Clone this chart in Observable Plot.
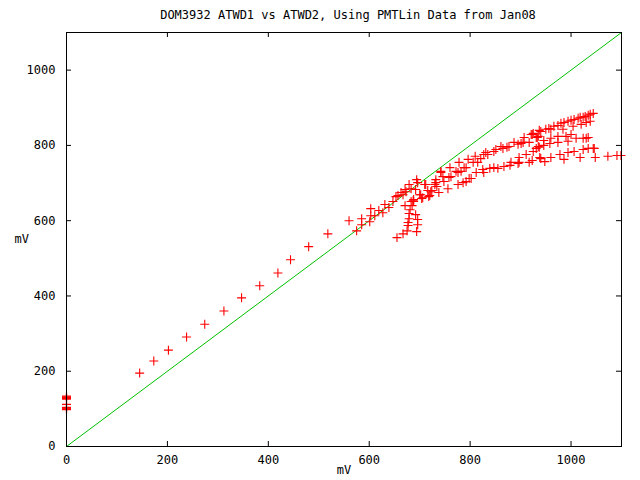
<!DOCTYPE html>
<html>
<head>
<meta charset="utf-8">
<script src="https://cdn.jsdelivr.net/npm/d3@7"></script>
<script src="https://cdn.jsdelivr.net/npm/@observablehq/plot@0.6"></script>
<style>
  body { margin: 0; background: white; }
  #title { width: 640px; height: 24px; line-height: 30px; text-align: center; box-sizing: border-box; padding-left: 56px;
           font-family: "DejaVu Sans Mono", monospace; font-size: 12px; color: black; }
</style>
</head>
<body>
<div id="title">DOM3932 ATWD1 vs ATWD2, Using PMTLin Data from Jan08</div>
<div id="chart"></div>
<script>
// ATWD2 (x, mV) vs ATWD1 (y, mV)
const xLabel = "mV";
const yLabel = "mV";
const tickValues = [0, 200, 400, 600, 800, 1000];
const identityLine = [0, 1100];

const axisPoints = [[0,126],[0,128],[0,130],[0,132],[0,134],[0,112],[0,98],[0,100],[0,102],[0,104]];

const nearDiagonal = [
  [145,195],[173,227],[202,256],[238,291],[274,325],[312,360],[347,395],[383,427],
  [419,461],[444,496],[480,531],[518,565],[560,600],[575,573],[585,605],[585,589],
  [601,597],[603,632],[603,613],[611,613],[619,627],[627,621],[631,643],[639,635],
  [647,651],[653,664],[657,667],[663,675],[671,683],[679,696],[683,685],[694,709]
];

const hook = [
  [655,555],[667,565],[675,573],[677,587],[677,595],[679,605],[679,619],[681,629],
  [685,640],[687,653],[688,656],[671,640],[692,616],[696,603],[696,589],[694,571],
  [700,669],[704,659],[710,696],[716,680],[720,667],[724,680],[730,696],[732,709],
  [738,675],[742,728],[748,704],[746,717],[756,685],[758,715]
];

const fanMiddle = [
  [667,669],[673,677],[683,651],[688,651],[692,683],[696,701],[702,669],[706,661],
  [712,696],[718,664],[722,677],[732,701],[734,691],[742,731],[760,741],[762,717],
  [776,728],[782,731],[778,755],[792,741],[796,763],[806,755],[815,755],[821,765],
  [831,781],[835,776],[851,789],[861,797],[873,795],[877,797],[887,808],[905,808],
  [923,829],[935,824],[865,792],[847,784],[827,776],[810,771],[788,741],[772,731],
  [895,803],[901,805],[907,821],[917,808],[921,829],[931,821],[937,840]
];

const fanLowerLeft = [
  [917,755],[897,755],[881,755],[867,744],[855,739],[847,741],[827,728],[825,736],
  [812,728],[802,712],[792,704],[776,696],[911,776],[897,768],[895,752],[879,747],
  [839,739],[798,712],[786,701],[935,797],[938,768]
];

const branchTop = [
  [1044,885],[1038,883],[1034,880],[1028,877],[1024,875],[1018,875],[1014,872],
  [1006,869],[1000,867],[994,864],[986,861],[980,859],[974,853],[966,851],[956,845],
  [950,843],[940,837]
];

const branchSecond = [
  [1038,864],[1030,861],[1020,856],[1004,851],[984,843],[960,843],[925,832],[933,821]
];

const branchThird = [
  [1034,821],[1030,819],[1024,819],[1010,819],[1000,829],[990,824],[974,824],[960,819],
  [946,813],[994,811],[974,808],[958,805],[946,800],[937,795],[931,792],[925,784]
];

const branchLowest = [
  [1046,792],[1044,792],[1034,792],[1024,789],[1006,784],[994,781],[978,776],[960,768],
  [940,765],[948,757],[986,763],[1018,768],[1048,768],[1073,771],[1091,773],[1099,773],
  [923,760]
];

const points = [].concat(axisPoints, nearDiagonal, hook, fanMiddle, fanLowerLeft,
  branchTop, branchSecond, branchThird, branchLowest);

const fmt = d3.format("d");
const W = 640, H = 456, ML = 66, MR = 19, MT = 8, MB = 34;
const frameW = W - ML - MR, frameH = H - MT - MB, tickLen = 5;

const chart = Plot.plot({
  width: W,
  height: H,
  marginLeft: ML,
  marginRight: MR,
  marginTop: MT,
  marginBottom: MB,
  style: { fontFamily: "DejaVu Sans Mono, monospace", fontSize: "12px", background: "white", color: "black" },
  x: { domain: [0, 1100] },
  y: { domain: [0, 1100] },
  marks: [
    // tick labels
    Plot.axisX(tickValues, { anchor: "bottom", tickSize: 0, tickPadding: 9, tickFormat: fmt, label: null, fill: "black" }),
    Plot.axisY(tickValues, { anchor: "left", tickSize: 0, tickPadding: 11, tickFormat: fmt, label: null, fill: "black" }),
    // inward tick marks on all four sides
    Plot.tickX(tickValues, { x: d => d, insetTop: frameH - tickLen, stroke: "black" }),
    Plot.tickX(tickValues, { x: d => d, insetBottom: frameH - tickLen, stroke: "black" }),
    Plot.tickY(tickValues, { y: d => d, insetRight: frameW - tickLen, stroke: "black" }),
    Plot.tickY(tickValues, { y: d => d, insetLeft: frameW - tickLen, stroke: "black" }),
    Plot.line(identityLine, { x: d => d, y: d => d, stroke: "#00c000", strokeWidth: 1 }),
    Plot.dot(points, { x: d => d[0], y: d => d[1], symbol: "plus", stroke: "#ff0000", r: 3, strokeWidth: 1.1 }),
    Plot.frame({ stroke: "black", strokeWidth: 1 }),
    Plot.text([xLabel], { frameAnchor: "bottom", dy: 27, fill: "black" }),
    Plot.text([yLabel], { frameAnchor: "left", dx: -52, fill: "black" })
  ]
});
document.getElementById("chart").appendChild(chart);
</script>
</body>
</html>
